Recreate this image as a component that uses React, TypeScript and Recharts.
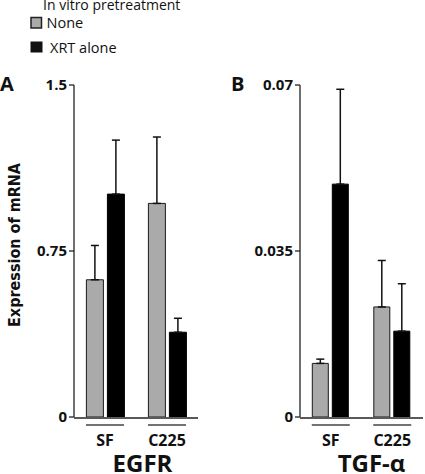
import React from 'react';
import { BarChart, Bar, XAxis, YAxis, ErrorBar } from 'recharts';

const categories = ['SF', 'C225'];
const egfrNone = [0.62, 0.965];
const egfrNoneErr = [0.155, 0.3];
const egfrXrt = [1.007, 0.383];
const egfrXrtErr = [0.244, 0.063];
const tgfNone = [0.0113, 0.0232];
const tgfNoneErr = [0.0009, 0.0098];
const tgfXrt = [0.0491, 0.0181];
const tgfXrtErr = [0.02, 0.01];
const egfrTicks = [0, 0.75, 1.5];
const tgfTicks = [0, 0.035, 0.07];
const boundaryTicks = [0, 1, 2];

const build = (none: number[], noneErr: number[], xrt: number[], xrtErr: number[]) =>
  categories.map((c, i) => ({ cat: c, none: none[i], noneErr: noneErr[i], xrt: xrt[i], xrtErr: xrtErr[i] }));

const egfrData = build(egfrNone, egfrNoneErr, egfrXrt, egfrXrtErr);
const tgfData = build(tgfNone, tgfNoneErr, tgfXrt, tgfXrtErr);

const FONT = '"Open Sans", "DejaVu Sans", sans-serif';
const GRAY = '#aaaaaa';

const CatTick = (props: any) => {
  const { x, y, payload } = props;
  return (
    <g>
      <line x1={x - 19} x2={x + 19} y1={y + 8} y2={y + 8} stroke="#444" strokeWidth={1.3} />
      <text x={x} y={y + 29} textAnchor="middle" fontWeight={700} fontSize={16} fill="#111" fontFamily={FONT}>
        {payload.value}
      </text>
    </g>
  );
};

const YTick = (props: any) => {
  const { x, y, payload } = props;
  return (
    <text x={x} y={y + 5} textAnchor="end" fontWeight={700} fontSize={15} fill="#111" fontFamily={FONT}>
      {payload.value}
    </text>
  );
};

const Panel = ({ data, domain, ticks, left, width, mLeft, mRight }: any) => (
  <div style={{ position: 'absolute', left, top: 0, width, height: 474 }}>
    <BarChart
      width={width}
      height={474}
      data={data}
      margin={{ top: 85, right: mRight, bottom: 55, left: mLeft - 60 }}
      barCategoryGap="20%"
      barGap={4}
      style={{ fontFamily: FONT }}
    >
      <XAxis
        xAxisId="num"
        type="number"
        domain={[0, 2]}
        ticks={boundaryTicks}
        allowDataOverflow
        height={1}
        tick={false}
        tickSize={5}
        stroke="#222"
        axisLine={{ stroke: '#222', strokeWidth: 1.3 }}
        tickLine={{ stroke: '#222', strokeWidth: 1.3 }}
        interval={0}
      />
      <XAxis
        xAxisId="cat"
        dataKey="cat"
        height={1}
        axisLine={false}
        tickLine={false}
        tickSize={0}
        tickMargin={0}
        tick={<CatTick />}
        interval={0}
      />
      <YAxis
        width={60}
        domain={domain}
        ticks={ticks}
        interval={0}
        allowDataOverflow
        tickSize={5}
        tickMargin={2}
        axisLine={{ stroke: '#222', strokeWidth: 1.3 }}
        tickLine={{ stroke: '#222', strokeWidth: 1.3 }}
        tick={<YTick />}
      />
      <Bar xAxisId="cat" dataKey="none" fill={GRAY} stroke="#1a1a1a" strokeWidth={1} isAnimationActive={false}>
        <ErrorBar dataKey={(d: any) => [0, d.noneErr]} width={4} stroke="#111" strokeWidth={1.5} />
      </Bar>
      <Bar xAxisId="cat" dataKey="xrt" fill="#000" stroke="#000" strokeWidth={1} isAnimationActive={false}>
        <ErrorBar dataKey={(d: any) => [0, d.xrtErr]} width={4} stroke="#111" strokeWidth={1.5} />
      </Bar>
    </BarChart>
  </div>
);

export default function App() {
  return (
    <div style={{ position: 'absolute', left: 0, top: 0, width: 425, height: 474, background: '#fff', overflow: 'hidden' }}>
      <Panel data={egfrData} domain={[0, 1.5]} ticks={egfrTicks} left={0} width={210} mLeft={74} mRight={12} />
      <Panel data={tgfData} domain={[0, 0.07]} ticks={tgfTicks} left={210} width={215} mLeft={90} mRight={2} />
      <svg width={425} height={474} style={{ position: 'absolute', left: 0, top: 0, pointerEvents: 'none' }} fontFamily={FONT}>
        <text x={43} y={9.5} fontSize={14} fill="#111">In vitro pretreatment</text>
        <rect x={31} y={17.5} width={10.5} height={10.5} fill={GRAY} stroke="#222" strokeWidth={1.5} />
        <text x={46.5} y={27.5} fontSize={14.5} fill="#111">None</text>
        <rect x={30.5} y={41.5} width={12} height={11} fill="#111" />
        <text x={50} y={52.5} fontSize={14.5} fill="#111">XRT alone</text>
        <text x={0} y={91} fontSize={20} fontWeight={700} fill="#111">A</text>
        <text x={231} y={91} fontSize={20} fontWeight={700} fill="#111">B</text>
        <text
          transform="translate(20,245) rotate(-90)"
          textAnchor="middle"
          fontSize={16}
          fontWeight={700}
          fill="#111"
          fontFamily='"DejaVu Sans Condensed", "Liberation Sans Narrow", "Open Sans", sans-serif'
          style={{ fontStretch: 'condensed' }}
        >
          Expression of mRNA
        </text>
        <text x={142.5} y={472} textAnchor="middle" fontSize={24} fontWeight={700} fill="#111">EGFR</text>
        <text x={371.5} y={472} textAnchor="middle" fontSize={24} fontWeight={700} fill="#111">TGF-α</text>
      </svg>
    </div>
  );
}
